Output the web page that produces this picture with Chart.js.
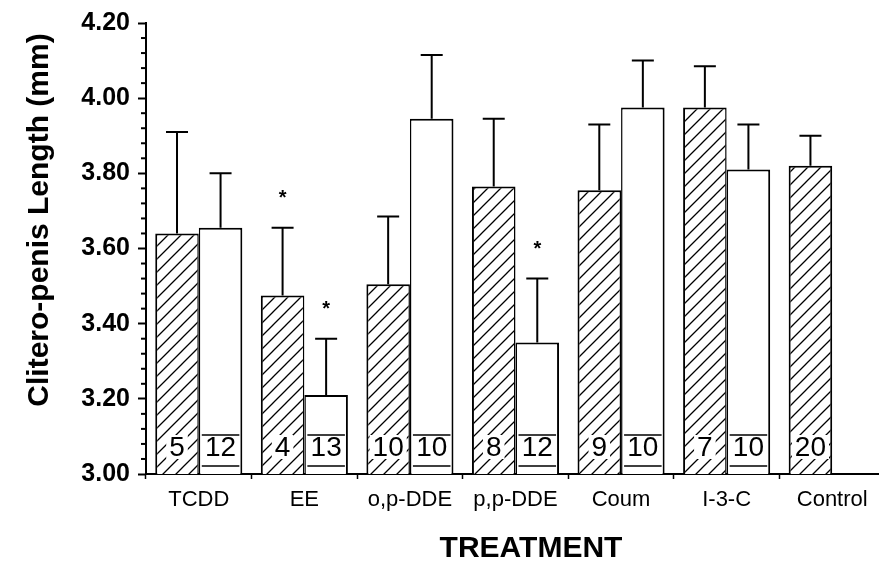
<!DOCTYPE html>
<html><head><meta charset="utf-8">
<script src="https://cdn.jsdelivr.net/npm/chart.js@4.4.1/dist/chart.umd.min.js"></script>
<style>html,body{margin:0;padding:0;background:#fff;overflow:hidden;width:879px;height:561px}canvas{display:block}</style>
</head><body>
<canvas id="c" width="885" height="561"></canvas>
<script>
const categories = ['TCDD','EE','o,p-DDE','p,p-DDE','Coum','I-3-C','Control'];
const hatchedMeans  = [3.64, 3.475, 3.505, 3.765, 3.755, 3.975, 3.82];
const hatchedErrTop = [3.91, 3.655, 3.685, 3.945, 3.93, 4.085, 3.90];
const openMeans     = [3.655, 3.21, 3.945, 3.35, 3.975, 3.81, null];
const openErrTop    = [3.80, 3.36, 4.115, 3.52, 4.10, 3.93, null];
const hatchedN = ['5','4','10','8','9','7','20'];
const openN    = ['12','13','10','12','10','10',null];
const hatchedStar = [false,true,false,false,false,false,false];
const openStar    = [false,true,false,true,false,false,false];
const yMin = 3.0, yMax = 4.2, yMinorStep = 0.04, yMajorStep = 0.2;
const yTitle = 'Clitero-penis Length (mm)';
const xTitle = 'TREATMENT';

const FAM = "'Liberation Sans', Arial, Helvetica, sans-serif";
const isMajor = v => Math.abs(v / yMajorStep - Math.round(v / yMajorStep)) < 1e-6;

const canvas = document.getElementById('c');
const ctx0 = canvas.getContext('2d');
function hatch(){
  const s = 13, c = document.createElement('canvas'); c.width = s; c.height = s;
  const g = c.getContext('2d');
  g.fillStyle = '#fff'; g.fillRect(0,0,s,s);
  g.strokeStyle = '#000'; g.lineWidth = 1.3; g.beginPath();
  g.moveTo(0,s); g.lineTo(s,0);
  g.moveTo(-2,2); g.lineTo(2,-2);
  g.moveTo(s-2,s+2); g.lineTo(s+2,s-2);
  g.stroke();
  return ctx0.createPattern(c,'repeat');
}

const annot = {
  id: 'annot',
  afterDatasetsDraw(chart){
    const ctx = chart.ctx, y = chart.scales.y, area = chart.chartArea;
    const base = y.getPixelForValue(yMin);
    const sets = [[0, hatchedErrTop, hatchedN, hatchedStar], [1, openErrTop, openN, openStar]];
    ctx.save();
    sets.forEach(([di, err, ns, stars]) => {
      const meta = chart.getDatasetMeta(di);
      meta.data.forEach((bar, i) => {
        const v = chart.data.datasets[di].data[i];
        if (v == null) return;
        const {x, width} = bar.getProps(['x','width'], true);
        const top = y.getPixelForValue(v), et = y.getPixelForValue(err[i]);
        ctx.strokeStyle = '#000'; ctx.lineWidth = 2;
        ctx.beginPath();
        ctx.moveTo(x, top); ctx.lineTo(x, et);
        ctx.moveTo(x - 11, et); ctx.lineTo(x + 11, et);
        ctx.stroke();
        if (stars[i]) {
          ctx.font = 'bold 20px ' + FAM; ctx.textAlign = 'center'; ctx.textBaseline = 'alphabetic';
          ctx.fillStyle = '#000'; ctx.fillText('*', x, et - 24);
        }
        ctx.font = '28px ' + FAM; ctx.textAlign = 'center'; ctx.textBaseline = 'middle';
        const cy = base - 27;
        const tw = ctx.measureText(ns[i]).width;
        if (di === 0) {
          ctx.fillStyle = '#fff'; ctx.fillRect(x - tw/2 - 3, cy - 12, tw + 6, 24);
        } else {
          ctx.lineWidth = 1.5; ctx.beginPath();
          ctx.moveTo(x - width/2 + 3, base - 39); ctx.lineTo(x + width/2 - 3, base - 39);
          ctx.moveTo(x - width/2 + 3, base - 8); ctx.lineTo(x + width/2 - 3, base - 8);
          ctx.stroke();
        }
        ctx.fillStyle = '#000'; ctx.fillText(ns[i], x, cy + 1);
      });
    });
    // minor y ticks
    ctx.strokeStyle = '#000'; ctx.lineWidth = 2;
    y.ticks.forEach(t => {
      if (!isMajor(t.value)) {
        const py = y.getPixelForValue(t.value);
        ctx.beginPath(); ctx.moveTo(area.left - 5, py); ctx.lineTo(area.left, py); ctx.stroke();
      }
    });
    // titles
    ctx.fillStyle = '#000';
    ctx.font = 'bold 30px ' + FAM; ctx.textAlign = 'center'; ctx.textBaseline = 'alphabetic';
    ctx.fillText(xTitle, 531, 557);
    ctx.save(); ctx.translate(48, 220); ctx.rotate(-Math.PI/2);
    ctx.fillText(yTitle, 0, 0);
    ctx.restore();
    ctx.restore();
  }
};

new Chart(canvas, {
  type: 'bar',
  data: {
    labels: categories,
    datasets: [
      { data: hatchedMeans, backgroundColor: hatch(), borderColor: '#000',
        borderWidth: c => ({top: 2, left: 2, right: openMeans[c.dataIndex] == null ? 2 : 1.5, bottom: 0}) },
      { data: openMeans, backgroundColor: '#fff', borderColor: '#000',
        borderWidth: {top: 2, left: 1.5, right: 2, bottom: 0} }
    ]
  },
  options: {
    responsive: false, animation: false, devicePixelRatio: 1,
    categoryPercentage: 0.825, barPercentage: 1,
    layout: { padding: { top: 22, left: 0, right: 0, bottom: 0 } },
    plugins: { legend: { display: false }, tooltip: { enabled: false } },
    scales: {
      x: {
        grid: { display: true, drawOnChartArea: false, offset: true, tickLength: 5, color: '#000', tickColor: '#000', tickWidth: 1.5 },
        border: { color: '#000', width: 2 },
        ticks: { color: '#000', font: { family: FAM, size: 22 }, padding: 8, maxRotation: 0, autoSkip: false },
        afterFit(s) { s.height = 87; }
      },
      y: {
        min: yMin, max: yMax,
        grid: { drawOnChartArea: false, tickLength: 8, tickWidth: 2,
                tickColor: c => (c.tick && isMajor(c.tick.value)) ? '#000' : 'rgba(0,0,0,0)' },
        border: { color: '#000', width: 2 },
        ticks: { stepSize: yMinorStep, autoSkip: false, color: '#000',
                 font: { family: FAM, size: 25, weight: 'bold' }, padding: 8,
                 callback: v => isMajor(v) ? v.toFixed(2) : '' },
        afterFit(s) { s.width = 146; }
      }
    }
  },
  plugins: [annot]
});
</script>
</body></html>
